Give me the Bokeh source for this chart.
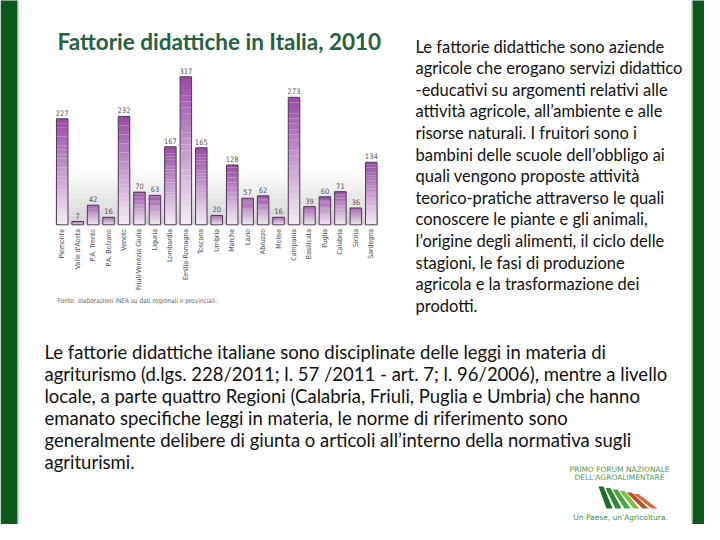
import numpy as np
from bokeh.plotting import figure
from bokeh.models import Range1d
from bokeh.core.properties import value
from bokeh.embed import file_html
from bokeh.resources import INLINE

# ---------------- data ----------------
regions = ["Piemonte", "Valle d'Aosta", "P.A. Trento", "P.A. Bolzano", "Veneto",
           "Friuli-Venezia Giulia", "Liguria", "Lombardia", "Emilia-Romagna", "Toscana",
           "Umbria", "Marche", "Lazio", "Abruzzo", "Molise", "Campania", "Basilicata",
           "Puglia", "Calabria", "Sicilia", "Sardegna"]
fattorie = [227, 7, 42, 16, 232, 70, 63, 167, 317, 165, 20, 128, 57, 62, 16, 273, 39, 60, 71, 36, 134]

title_text = "Fattorie didattiche in Italia, 2010"
source_text = "Fonte: elaborazioni INEA su dati regionali e provinciali."
side_lines = [
    "Le fattorie didattiche sono aziende",
    "agricole che erogano servizi didattico",
    "-educativi su argomenti relativi alle",
    "attività agricole, all’ambiente e alle",
    "risorse naturali. I fruitori sono i",
    "bambini delle scuole dell’obbligo ai",
    "quali vengono proposte attività",
    "teorico-pratiche attraverso le quali",
    "conoscere le piante e gli animali,",
    "l’origine degli alimenti, il ciclo delle",
    "stagioni, le fasi di produzione",
    "agricola e la trasformazione dei",
    "prodotti.",
]
bottom_lines = [
    "Le fattorie didattiche italiane sono disciplinate delle leggi in materia di",
    "agriturismo (d.lgs. 228/2011; l. 57 /2011 - art. 7; l. 96/2006), mentre a livello",
    "locale, a parte quattro Regioni (Calabria, Friuli, Puglia e Umbria) che hanno",
    "emanato specifiche leggi in materia, le norme di riferimento sono",
    "generalmente delibere di giunta o articoli all’interno della normativa sugli",
    "agriturismi.",
]
logo_lines = ["PRIMO FORUM NAZIONALE", "DELL'AGROALIMENTARE"]
logo_motto = "Un Paese, un'Agricoltura."

# ---------------- figure ----------------
step_px = 15.455
x0_px = 61.7
base_px = 232.3
unit_px = 0.467
W, H = 704, 524
Y0 = 8  # page y of the figure's top edge
p = figure(width=W, height=H, output_backend="svg", toolbar_location=None,
           x_range=Range1d((0 - x0_px) / step_px, (W - x0_px) / step_px),
           y_range=Range1d((base_px - (H + Y0)) / unit_px, (base_px - Y0) / unit_px),
           x_axis_location=None, y_axis_location=None, min_border=0)
p.grid.visible = False
p.outline_line_color = None
p.background_fill_color = "white"
p.border_fill_color = "white"
p.extra_x_ranges = {"px": Range1d(0, W)}
p.extra_y_ranges = {"px": Range1d(H + Y0, Y0)}
PX = dict(x_range_name="px", y_range_name="px")

# green side borders
p.quad(left=[0, 692], right=[17, W], top=[0, 0], bottom=[H + Y0, H + Y0],
       fill_color="#0b5a1c", line_color=None, **PX)
p.quad(left=[17, 691], right=[18, 692], top=[0, 0], bottom=[H + Y0, H + Y0],
       fill_color="#8dba96", line_color=None, **PX)

def mix(c1, c2, t):
    a = np.array([int(c1[i:i + 2], 16) for i in (1, 3, 5)])
    b = np.array([int(c2[i:i + 2], 16) for i in (1, 3, 5)])
    c = (a + (b - a) * t).round().astype(int)
    return "#%02x%02x%02x" % tuple(c)

# floor gradient behind bars
nfl = 12
fy = np.linspace(178, 232, nfl + 1)
p.quad(left=[55] * nfl, right=[378] * nfl, top=list(fy[:-1]), bottom=list(fy[1:]),
       fill_color=[mix("#ffffff", "#d4d4d4", (k + 1) / nfl) for k in range(nfl)],
       line_color=None, **PX)

# bars with vertical gradient
xs = np.arange(len(fattorie))
vals = np.array(fattorie, dtype=float)
N = 24
L, R, T, B, C = [], [], [], [], []
bw = 0.745
for i, v in zip(xs, vals):
    for k in range(N):
        L.append(i - bw / 2); R.append(i + bw / 2)
        B.append(v * k / N); T.append(v * (k + 1) / N)
        C.append(mix("#f4eef5", "#984aa5", (k + 0.5) / N))
p.quad(left=L, right=R, bottom=B, top=T, fill_color=C, line_color=None)
p.quad(left=xs - bw / 2, right=xs + bw / 2, bottom=0, top=vals,
       fill_color=None, line_color="#4d3a52", line_width=1)

small_font = value("DejaVu Sans Condensed")
# value labels
p.text(x=xs, y=vals, text=[str(v) for v in fattorie], text_align="center",
       text_baseline="bottom", y_offset=-3, text_color="#555555",
       text_font=small_font, text_font_size="7.5px")
# category labels (rotated)
p.text(x=xs, y=[0] * len(xs), text=regions, angle=np.pi / 2, text_align="right",
       text_baseline="middle", y_offset=4, text_color="#505050",
       text_font=small_font, text_font_size="7px")

# source
p.text(x=[57], y=[308], text=[source_text], text_baseline="alphabetic",
       text_color="#666666", text_font=small_font,
       text_font_size="6.5px", **PX)

# title
p.text(x=[57], y=[49], text=[title_text], text_baseline="alphabetic",
       text_color="#24613f", text_font=value("Lato"), text_font_style="bold",
       text_font_size="22.5px", **PX)

# side text
p.text(x=[415] * len(side_lines), y=[54 + 21.6 * k for k in range(len(side_lines))],
       text=side_lines, text_baseline="alphabetic", text_color="#111111",
       text_font=value("Lato"), text_font_size="16.5px", **PX)

# bottom text
p.text(x=[44] * len(bottom_lines), y=[359 + 22 * k for k in range(len(bottom_lines))],
       text=bottom_lines, text_baseline="alphabetic", text_color="#111111",
       text_font=value("Lato"), text_font_size="18.5px", **PX)

# logo
p.text(x=[619, 619], y=[477, 485], text=logo_lines, text_align="center",
       text_baseline="alphabetic", text_color="#4f9a52",
       text_font=value("DejaVu Sans"), text_font_size="7.5px", **PX)
p.text(x=[620], y=[525], text=[logo_motto], text_align="center",
       text_baseline="alphabetic", text_color="#3f8f44",
       text_font=value("DejaVu Sans"), text_font_size="7.5px", **PX)
stripe_cols = ["#1f6b2a", "#2f8a35", "#4aa63e", "#7cc04a", "#c04a2a", "#d86a3a"]
sx = []
sy = []
for k in range(6):
    x_top = 598 + k * 7
    sx.append([x_top, x_top + 5, x_top + 14 + k * 2, x_top + 8 + k * 2])
    sy.append([494 + k * 1.5, 494 + k * 1.5, 516, 516])
p.patches(xs=sx, ys=sy, fill_color=stripe_cols, line_color=None, **PX)

open("out.html", "w").write(file_html(p, INLINE))
